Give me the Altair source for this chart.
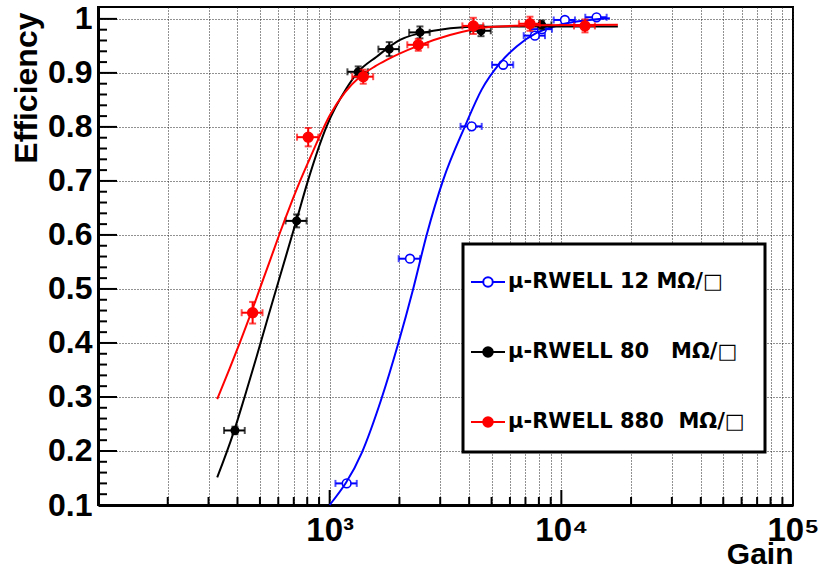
import altair as alt
import pandas as pd

# ---------------- data ----------------
series_names = [
    "μ-RWELL 12 MΩ/□",
    "μ-RWELL 80\u00a0\u00a0\u00a0MΩ/□",
    "μ-RWELL 880\u00a0\u00a0MΩ/□",
]
series_colors = ["#0000ff", "#000000", "#ff0000"]
series_fills = ["#ffffff", "#000000", "#ff0000"]
series_point_sizes = [75, 55, 95]

# measured points
gain_12 = [1184, 2221, 4102, 5610, 7690, 8240, 10360, 14190]
eff_12 = [0.140, 0.556, 0.801, 0.915, 0.969, 0.981, 0.998, 1.003]
gain_err_12 = [125, 235, 430, 590, 810, 870, 1090, 1500]
eff_err_12 = [0.004, 0.004, 0.004, 0.004, 0.003, 0.003, 0.002, 0.002]

gain_80 = [390, 720, 1328, 1808, 2453, 4500, 8220]
eff_80 = [0.238, 0.626, 0.902, 0.944, 0.975, 0.978, 0.989]
gain_err_80 = [40, 75, 135, 185, 250, 460, 840]
eff_err_80 = [0.007, 0.012, 0.010, 0.013, 0.011, 0.010, 0.008]

gain_880 = [465, 808, 1396, 2413, 4170, 7320, 12650]
eff_880 = [0.456, 0.781, 0.893, 0.952, 0.987, 0.991, 0.987]
gain_err_880 = [48, 85, 145, 250, 430, 760, 1310]
eff_err_880 = [0.020, 0.017, 0.013, 0.011, 0.015, 0.013, 0.012]

# fitted curves (sampled by eye along the drawn lines)
fit_gain_12 = [1000, 1374, 1665, 1977, 2296, 2622, 3091, 3836, 4530, 5433, 6413, 7815, 9860, 16200]
fit_eff_12 = [0.100, 0.196, 0.294, 0.399, 0.501, 0.600, 0.702, 0.801, 0.869, 0.918, 0.949, 0.974, 0.989, 1.001]

fit_gain_80 = [327, 384, 430, 484, 548, 610, 720, 808, 970, 1184, 1328, 1595, 2011, 2800, 3900, 6000, 10000, 17540]
fit_eff_80 = [0.151, 0.233, 0.301, 0.375, 0.455, 0.523, 0.628, 0.702, 0.801, 0.872, 0.902, 0.930, 0.961, 0.978, 0.985, 0.986, 0.986, 0.986]

fit_gain_880 = [327, 371, 410, 453, 500, 553, 610, 674, 744, 822, 908, 1003, 1164, 1351, 1569,
                1762, 2375, 3304, 4920, 8000, 17540]
fit_eff_880 = [0.296, 0.354, 0.401, 0.450, 0.501, 0.553, 0.604, 0.653, 0.699, 0.742, 0.784, 0.822,
               0.864, 0.893, 0.912, 0.924, 0.949, 0.970, 0.985, 0.988, 0.989]

# axis ticks / labels
x_major = [100, 1000, 10000, 100000]
x_minor = [m * 10 ** k for k in (2, 3, 4) for m in range(2, 10)]
x_label_values = [1000, 10000, 100000]
x_label_texts = ["10³", "10⁴", "10⁵"]
y_major = [0.1, 0.2, 0.3, 0.4, 0.5, 0.6, 0.7, 0.8, 0.9, 1.0]
y_label_texts = ["0.1", "0.2", "0.3", "0.4", "0.5", "0.6", "0.7", "0.8", "0.9", "1"]
y_minor = [round(0.1 + 0.02 * i, 2) for i in range(46) if i % 5 != 0]

# ---------------- chart ----------------
W, H = 695, 498
FONT = "Liberation Sans"

point_gains = [gain_12, gain_80, gain_880]
point_effs = [eff_12, eff_80, eff_880]
point_gerr = [gain_err_12, gain_err_80, gain_err_880]
point_eerr = [eff_err_12, eff_err_80, eff_err_880]
fit_gains = [fit_gain_12, fit_gain_80, fit_gain_880]
fit_effs = [fit_eff_12, fit_eff_80, fit_eff_880]

xs = alt.Scale(type="log", domain=[100, 100000], nice=False)
ys = alt.Scale(domain=[0.1, 1.022], nice=False, zero=False)
stroke_scale = alt.Scale(domain=series_names, range=series_colors)
fill_scale = alt.Scale(domain=series_names, range=series_fills)


def case_expr(values, texts):
    expr = "''"
    for v, t in reversed(list(zip(values, texts))):
        expr = f"abs(datum.value - {v}) < 1e-6 * {v} ? '{t}' : ({expr})"
    return expr


x_axis = alt.Axis(
    values=x_major + x_minor, grid=True, gridDash=[1, 2], gridColor="#222",
    gridWidth=1, ticks=False, tickSize=0, domain=True, domainColor="black",
    domainWidth=3, labelExpr=case_expr(x_label_values, x_label_texts),
    labelFont=FONT, labelFontSize=33, labelFontWeight="bold", labelColor="black",
    labelPadding=9, labelFlush=False, labelOverlap=False,
    title="Gain", titleFont=FONT, titleFontSize=30, titleFontWeight="bold",
    titleColor="black", titleAnchor="end", titleAlign="right",
    titleBaseline="alphabetic", titleX=W, titleY=58,
)
y_axis = alt.Axis(
    values=y_major, grid=True, gridDash=[1, 2], gridColor="#222", gridWidth=1,
    ticks=False, tickSize=0, domain=True, domainColor="black", domainWidth=3,
    labelExpr=case_expr(y_major, y_label_texts),
    labelFont=FONT, labelFontSize=32, labelFontWeight="bold", labelColor="black",
    labelPadding=6, labelFlush=False, labelOverlap=False,
    title="Efficiency", titleFont=FONT, titleFontSize=32, titleFontWeight="bold",
    titleColor="black", titleAngle=270, titleAlign="right",
    titleBaseline="alphabetic", titleX=-62, titleY=5,
)

axes_layer = alt.Chart(pd.DataFrame({"g": [100, 100000], "e": [0.1, 1.022]})).mark_point(
    opacity=0
).encode(
    x=alt.X("g:Q", scale=xs, axis=x_axis),
    y=alt.Y("e:Q", scale=ys, axis=y_axis),
)

xmaj = alt.Chart(pd.DataFrame({"v": x_major})).mark_rule(color="black", strokeWidth=2).encode(
    x=alt.X("v:Q", scale=xs), y=alt.value(H), y2=alt.value(H - 15)
)
xmin = alt.Chart(pd.DataFrame({"v": x_minor})).mark_rule(color="black", strokeWidth=2).encode(
    x=alt.X("v:Q", scale=xs), y=alt.value(H), y2=alt.value(H - 8)
)
ymaj = alt.Chart(pd.DataFrame({"v": y_major})).mark_rule(color="black", strokeWidth=2).encode(
    y=alt.Y("v:Q", scale=ys), x=alt.value(0), x2=alt.value(19)
)
ymin = alt.Chart(pd.DataFrame({"v": y_minor})).mark_rule(color="black", strokeWidth=2).encode(
    y=alt.Y("v:Q", scale=ys), x=alt.value(0), x2=alt.value(9)
)

layers = [axes_layer, xmaj, xmin, ymaj, ymin]

for i, name in enumerate(series_names):
    col = series_colors[i]
    pts = pd.DataFrame({
        "gain": point_gains[i], "eff": point_effs[i],
        "gerr": point_gerr[i], "eerr": point_eerr[i],
        "series": [name] * len(point_gains[i]),
    })
    pts["glo"] = pts["gain"] - pts["gerr"]
    pts["ghi"] = pts["gain"] + pts["gerr"]
    pts["elo"] = pts["eff"] - pts["eerr"]
    pts["ehi"] = pts["eff"] + pts["eerr"]
    fit = pd.DataFrame({"gain": fit_gains[i], "eff": fit_effs[i]})

    curve = alt.Chart(fit).mark_line(color=col, strokeWidth=2, interpolate="monotone").encode(
        x=alt.X("gain:Q", scale=xs), y=alt.Y("eff:Q", scale=ys)
    )
    base = alt.Chart(pts)
    hbar = base.mark_rule(color=col, strokeWidth=2).encode(
        x=alt.X("glo:Q", scale=xs), x2="ghi:Q", y=alt.Y("eff:Q", scale=ys)
    )
    vbar = base.mark_rule(color=col, strokeWidth=2).encode(
        x=alt.X("gain:Q", scale=xs), y=alt.Y("elo:Q", scale=ys), y2="ehi:Q"
    )
    cap_l = base.mark_tick(color=col, orient="vertical", size=7, thickness=2).encode(
        x=alt.X("glo:Q", scale=xs), y=alt.Y("eff:Q", scale=ys)
    )
    cap_r = base.mark_tick(color=col, orient="vertical", size=7, thickness=2).encode(
        x=alt.X("ghi:Q", scale=xs), y=alt.Y("eff:Q", scale=ys)
    )
    cap_b = base.mark_tick(color=col, orient="horizontal", size=7, thickness=2).encode(
        x=alt.X("gain:Q", scale=xs), y=alt.Y("elo:Q", scale=ys)
    )
    cap_t = base.mark_tick(color=col, orient="horizontal", size=7, thickness=2).encode(
        x=alt.X("gain:Q", scale=xs), y=alt.Y("ehi:Q", scale=ys)
    )
    points = base.mark_point(
        shape="circle", filled=True, opacity=1, strokeWidth=1.6, size=series_point_sizes[i]
    ).encode(
        x=alt.X("gain:Q", scale=xs),
        y=alt.Y("eff:Q", scale=ys),
        stroke=alt.Stroke("series:N", scale=stroke_scale, legend=alt.Legend(title=None)),
        fill=alt.Fill("series:N", scale=fill_scale, legend=alt.Legend(title=None)),
    )
    layers += [hbar, vbar, cap_l, cap_r, cap_b, cap_t, points, curve]

legend_symbol = "M-1,0H-0.28M0.28,0H1M-0.28,0A0.28,0.28,0,1,1,0.28,0A0.28,0.28,0,1,1,-0.28,0Z"

chart = alt.layer(*layers).properties(
    width=W, height=H,
    autosize=alt.AutoSizeParams(type="none"),
    padding={"left": 98, "top": 7, "right": 26, "bottom": 64},
).configure_view(
    stroke="black", strokeWidth=2
).configure_legend(
    orient="none", legendX=365, legendY=237, padding=20,
    strokeColor="black", strokeWidth=3, fillColor="white",
    symbolType=legend_symbol, symbolSize=1156, symbolStrokeWidth=2,
    symbolOffset=-13, labelOffset=2, rowPadding=42,
    labelFont="DejaVu Sans", labelFontWeight="bold", labelFontSize=21,
    labelColor="black", labelLimit=500,
)

chart.save("out.html", embed_options={"renderer": "svg", "actions": False})
